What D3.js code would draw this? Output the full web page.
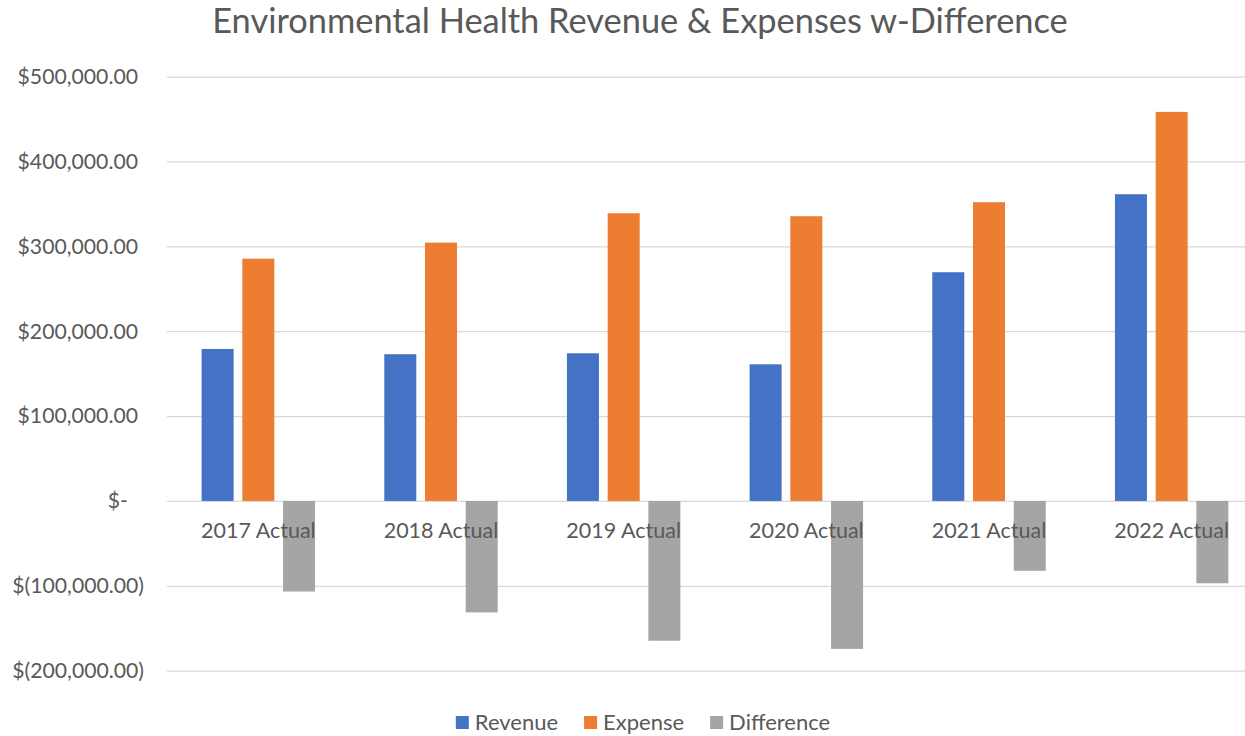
<!DOCTYPE html>
<meta charset="utf-8">
<style>
    body { margin: 0; background: white; }
    svg { display: block; font-family: Lato, "Noto Sans", sans-serif; }
    .tick text { fill: #595959; }
</style>
<body>
<div id="chart"></div>
<script src="https://d3js.org/d3.v7.min.js"></script>
<script>
// values
var years = ["2017 Actual", "2018 Actual", "2019 Actual", "2020 Actual", "2021 Actual", "2022 Actual"];
var seriesNames = ["Revenue", "Expense", "Difference"];
var revenue = [179100, 172900, 174000, 161000, 269500, 361400];
var expense = [285500, 304400, 339000, 335500, 352000, 458400];
var difference = [-106700, -131300, -164700, -174300, -82300, -97000];
var yTicks = [-200000, -100000, 0, 100000, 200000, 300000, 400000, 500000];
var colors = ["#4472C4", "#ED7D31", "#A5A5A5"];

var width = 1245, height = 736;
var svg = d3.select('#chart').append('svg')
    .attr('width', width)
    .attr('height', height);

var left = 167, right = 1263;
var y = d3.scaleLinear().domain([-200000, 500000]).range([670.7, 76.6]);
var x0 = d3.scaleBand().domain(years).range([left, right]);
var x1 = d3.scaleBand().domain(seriesNames).range([0, x0.bandwidth()])
    .paddingInner(0.214).paddingOuter(0.85);
var color = d3.scaleOrdinal().domain(seriesNames).range(colors);

var money = d3.format(",.2f");
function fmtMoney(d) {
    if (d === 0) return "$-";
    if (d < 0) return "$(" + money(-d) + ")";
    return "$" + money(d);
}

// y axis + gridlines
var yAxis = svg.append('g')
    .attr('transform', `translate(${left},0)`)
    .call(d3.axisLeft(y)
        .tickValues(yTicks)
        .tickSize(-(right - left))
        .tickPadding(23)
        .tickFormat(fmtMoney))
    .attr('font-family', null)
    .attr('font-size', 21.2);
yAxis.select('.domain').remove();
yAxis.selectAll('.tick line')
    .attr('stroke', '#D9D9D9')
    .attr('stroke-width', 1.3);
yAxis.selectAll('.tick text')
    .attr('dx', d => d > 0 ? -6 : d === 0 ? -16 : 0);

// bars
var rows = years.map((yr, i) => ({year: yr, values: [revenue[i], expense[i], difference[i]]}));
var groups = svg.append('g').selectAll('g')
    .data(rows)
    .join('g')
    .attr('transform', d => `translate(${x0(d.year)},0)`);
groups.selectAll('rect')
    .data(d => d.values.map((v, j) => ({key: seriesNames[j], value: v})))
    .join('rect')
    .attr('x', d => x1(d.key))
    .attr('width', x1.bandwidth())
    .attr('y', d => y(Math.max(0, d.value)))
    .attr('height', d => Math.abs(y(d.value) - y(0)))
    .attr('fill', d => color(d.key));

// category labels on top of bars
var xAxis = svg.append('g')
    .attr('transform', `translate(0,${y(0)})`)
    .call(d3.axisBottom(x0).tickSize(0).tickPadding(22))
    .attr('font-family', null)
    .attr('font-size', 21.5);
xAxis.select('.domain').remove();

// title
svg.append('text')
    .attr('x', 640)
    .attr('y', 33)
    .attr('text-anchor', 'middle')
    .attr('font-size', 34.4)
    .attr('fill', '#595959')
    .text('Environmental Health Revenue & Expenses w-Difference');

// legend
var legend = svg.append('g');
var lx = 0;
seriesNames.forEach(function(name) {
    var item = legend.append('g').attr('transform', `translate(${lx},0)`);
    item.append('rect')
        .attr('width', 13).attr('height', 13)
        .attr('y', -6.5)
        .attr('fill', color(name));
    var t = item.append('text')
        .attr('x', 19)
        .attr('dy', '0.35em')
        .attr('font-size', 22)
        .attr('fill', '#595959')
        .text(name);
    lx += 19 + t.node().getComputedTextLength() + 26;
});
lx -= 26;
legend.attr('transform', `translate(${643 - lx / 2},722.5)`);
</script>
</body>
